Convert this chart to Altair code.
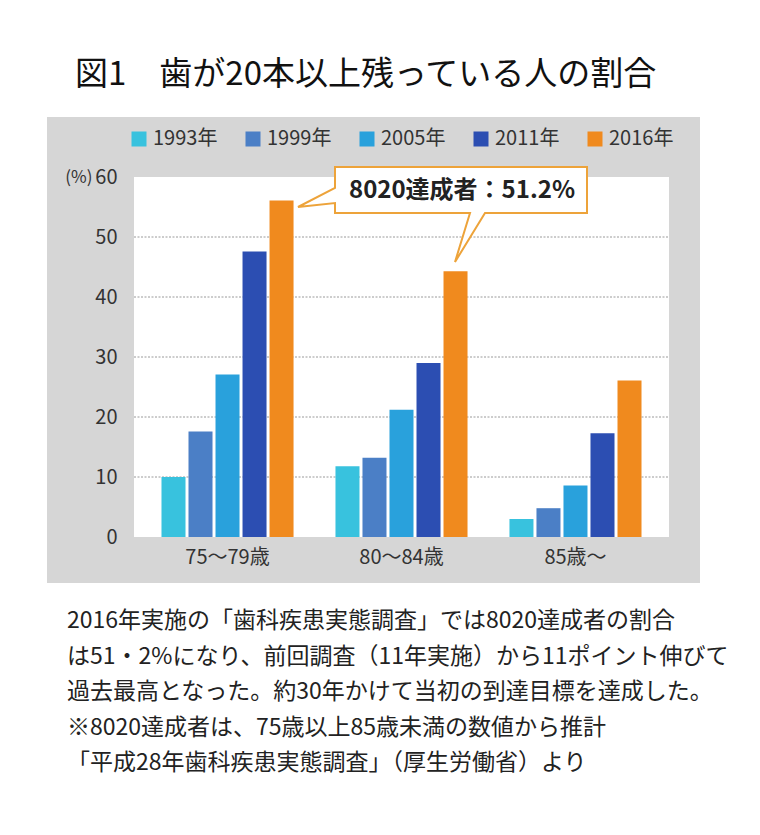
import altair as alt
import pandas as pd

FONT = "Noto Sans CJK JP"

# ---------------- data ----------------
categories = ["75〜79歳", "80〜84歳", "85歳〜"]
years = ["1993年", "1999年", "2005年", "2011年", "2016年"]
values_1993 = [10.0, 11.8, 3.0]
values_1999 = [17.6, 13.2, 4.8]
values_2005 = [27.1, 21.2, 8.6]
values_2011 = [47.6, 29.0, 17.3]
values_2016 = [56.1, 44.3, 26.1]
series = [values_1993, values_1999, values_2005, values_2011, values_2016]
colors = ["#38c2de", "#4b7fc6", "#29a1dc", "#2c4eb2", "#f08a1e"]
y_ticks = [0, 10, 20, 30, 40, 50, 60]
grid_values = [10, 20, 30, 40, 50]

title_text = "図1　歯が20本以上残っている人の割合"
callout_text = "8020達成者：51.2%"
note_lines = [
    "2016年実施の「歯科疾患実態調査」では8020達成者の割合",
    "は51・2%になり、前回調査（11年実施）から11ポイント伸びて",
    "過去最高となった。約30年かけて当初の到達目標を達成した。",
    "※8020達成者は、75歳以上85歳未満の数値から推計",
    "「平成28年歯科疾患実態調査」（厚生労働省）より",
]

# ---------------- layout (pixels, relative to plot area) ----------------
W, H = 535, 360
callout_outline = [
    [201, -10], [453, -10], [453, 36], [351, 36], [321, 85], [336, 36],
    [201, 36], [201, 26], [164, 30], [201, 11], [201, -10],
]

rows = [
    {"category": c, "year": y, "value": v}
    for y, vals in zip(years, series)
    for c, v in zip(categories, vals)
]
df = pd.DataFrame(rows)
dummy = alt.Data(values=[{}])

y_scale = alt.Scale(domain=[0, 60], nice=False)
y_axis = alt.Axis(
    values=y_ticks, title="(%)", titleAngle=0, titleAlign="right",
    titleBaseline="middle", titleX=-42, titleY=0, titleFontSize=17,
    titleFontWeight="normal", titleColor="#333", titleFont=FONT,
    labelFontSize=20, labelColor="#333", labelFont=FONT, labelPadding=17,
    ticks=False, tickSize=0, domain=False, grid=False, zindex=1,
)

panel = alt.Chart(dummy).mark_rect(color="#d6d6d6").encode(
    x=alt.value(-87), x2=alt.value(566), y=alt.value(-60), y2=alt.value(406)
)
plot_bg = alt.Chart(dummy).mark_rect(color="white").encode(
    x=alt.value(0), x2=alt.value(W), y=alt.value(0), y2=alt.value(H)
)

grid = alt.Chart(pd.DataFrame({"value": grid_values})).mark_rule(
    color="#9a9a9a", strokeWidth=1, strokeDash=[2, 1.5]
).encode(
    y=alt.Y("value:Q", scale=y_scale, axis=y_axis),
    x=alt.value(0), x2=alt.value(W),
)

bars = alt.Chart(df).mark_bar().encode(
    x=alt.X(
        "category:N", sort=categories,
        scale=alt.Scale(paddingInner=0.241, paddingOuter=0.158),
        axis=alt.Axis(title=None, labelAngle=0, ticks=False, domain=False,
                      labelFontSize=20, labelPadding=10, labelColor="#333",
                      labelFont=FONT, zindex=1),
    ),
    xOffset=alt.XOffset("year:N", sort=years,
                        scale=alt.Scale(paddingInner=0.111, paddingOuter=0)),
    y=alt.Y("value:Q", scale=y_scale, axis=y_axis),
    color=alt.Color(
        "year:N", sort=years, scale=alt.Scale(domain=years, range=colors),
        legend=alt.Legend(
            title=None, orient="none", legendX=-5, legendY=-48,
            direction="horizontal", symbolType="square", symbolSize=225,
            symbolStrokeWidth=0, labelFontSize=20, labelColor="#333",
            labelFont=FONT, columnPadding=25, labelOffset=4, padding=0,
        ),
    ),
)

callout_shape = alt.Chart(
    alt.Data(values=[{
        "type": "Feature", "properties": {},
        "geometry": {"type": "Polygon", "coordinates": [callout_outline]},
    }])
).mark_geoshape(fill="white", stroke="#eda33a", strokeWidth=2, clip=False).project(
    type="identity", scale=1, translate=[0, 0]
)

callout_label = alt.Chart(dummy).mark_text(
    align="center", baseline="middle", fontSize=24, fontWeight="bold",
    font=FONT, color="#222",
).encode(x=alt.value(328), y=alt.value(14), text=alt.value(callout_text))

title = alt.Chart(dummy).mark_text(
    align="left", baseline="middle", fontSize=33, font=FONT, color="#111"
).encode(x=alt.value(-59), y=alt.value(-102), text=alt.value(title_text))

notes = [
    alt.Chart(dummy).mark_text(
        align="left", baseline="middle", fontSize=23, font=FONT, color="#222"
    ).encode(x=alt.value(-67), y=alt.value(444 + i * 35.6), text=alt.value(line))
    for i, line in enumerate(note_lines)
]

chart = alt.layer(
    panel, plot_bg, grid, bars, callout_shape, callout_label, title, *notes
).properties(
    width=W, height=H,
    padding={"left": 126, "top": 169, "right": 83, "bottom": 280},
    autosize=alt.AutoSizeParams(type="none"),
).configure_view(stroke=None)

chart.save("out.html", embed_options={"renderer": "svg", "actions": False})
